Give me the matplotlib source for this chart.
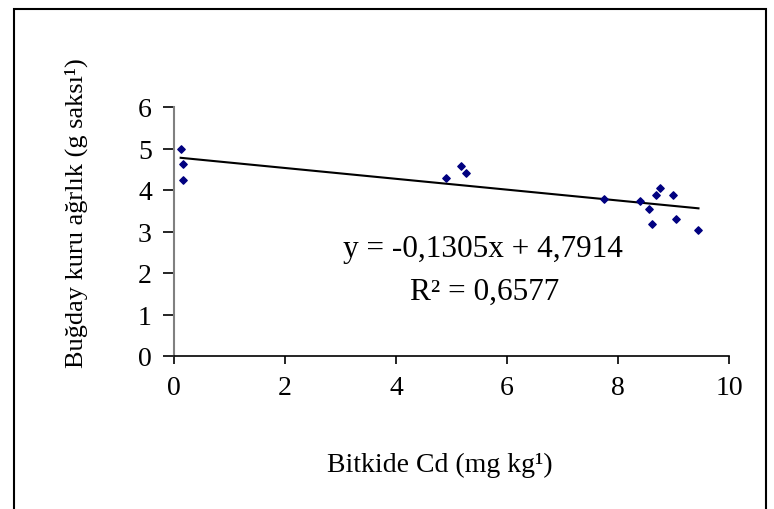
import matplotlib
matplotlib.use('Agg')
import matplotlib.pyplot as plt
from matplotlib.patches import Rectangle
import numpy as np

plt.rcParams['font.family'] = ['Liberation Serif', 'DejaVu Serif']

# Cd in plant (mg/kg) vs dry weight of wheat (g/pot)
cd_plant = [0.12, 0.16, 0.16, 4.90, 5.18, 5.26, 7.75, 8.40, 8.55, 8.62,
            8.69, 8.76, 8.99, 9.05, 9.45]
dry_weight = [5.00, 4.63, 4.25, 4.29, 4.59, 4.42, 3.78, 3.74, 3.54, 3.17,
              3.88, 4.05, 3.88, 3.29, 3.04]

slope = -0.1305
intercept = 4.7914
eq_text = 'y = -0,1305x + 4,7914'
r2_text = 'R² = 0,6577'

xlabel = 'Bitkide Cd (mg kg¹)'
ylabel = 'Buğday kuru ağrlık (g saksı¹)'

W, H = 774, 510
fig = plt.figure(figsize=(W / 100, H / 100), dpi=100)
ax = fig.add_axes([174 / W, 1 - 357 / H, (729 - 174) / W, (357 - 108) / H])

ax.scatter(cd_plant, dry_weight, marker='D', s=14, color='#000080', zorder=3)

xfit = np.array([min(cd_plant), max(cd_plant)])
ax.plot(xfit, slope * xfit + intercept, color='black', lw=1.5)

ax.set_xlim(0, 10)
ax.set_ylim(0, 6)
ax.set_xticks(np.arange(0, 11, 2))
ax.set_yticks(np.arange(0, 7, 1))

for s in ['top', 'right']:
    ax.spines[s].set_visible(False)
ax.spines['left'].set_color('#808080')
ax.spines['left'].set_linewidth(1.5)
ax.spines['bottom'].set_color('black')
ax.spines['bottom'].set_linewidth(1.2)
ax.tick_params(axis='x', direction='out', length=6, width=1.2, pad=8, labelsize=20)
ax.tick_params(axis='y', direction='out', length=8, width=1.2, pad=8, labelsize=20)

fig.text(440 / W, 1 - 465 / H, xlabel, ha='center', va='center', fontsize=20)
fig.text(76 / W, 1 - 213 / H, ylabel, ha='center', va='center', rotation=90, fontsize=19)

fig.text(483 / W, 1 - 250 / H, eq_text, ha='center', va='center', fontsize=22.5)
fig.text(485 / W, 1 - 292 / H, r2_text, ha='center', va='center', fontsize=22.5)

# outer chart border
fig.patches.append(Rectangle((14 / W, -0.05), (766 - 14) / W, 1 - 10 / H + 0.05,
                             transform=fig.transFigure, fill=False,
                             edgecolor='black', lw=1.5))

fig.savefig('out.png', dpi=100)
